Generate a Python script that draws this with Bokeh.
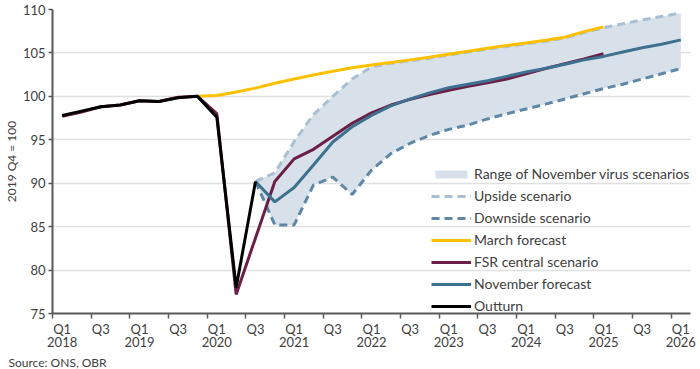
from bokeh.plotting import figure
from bokeh.models import (Range1d, FixedTicker, Legend, LegendItem, Title)
from bokeh.embed import file_html
from bokeh.resources import INLINE

# ---- data -------------------------------------------------------------
quarters = ["2018 Q1", "2018 Q2", "2018 Q3", "2018 Q4",
            "2019 Q1", "2019 Q2", "2019 Q3", "2019 Q4",
            "2020 Q1", "2020 Q2", "2020 Q3", "2020 Q4",
            "2021 Q1", "2021 Q2", "2021 Q3", "2021 Q4",
            "2022 Q1", "2022 Q2", "2022 Q3", "2022 Q4",
            "2023 Q1", "2023 Q2", "2023 Q3", "2023 Q4",
            "2024 Q1", "2024 Q2", "2024 Q3", "2024 Q4",
            "2025 Q1", "2025 Q2", "2025 Q3", "2025 Q4",
            "2026 Q1"]
tick_labels = ["Q1\n2018", "Q3", "Q1\n2019", "Q3", "Q1\n2020", "Q3",
               "Q1\n2021", "Q3", "Q1\n2022", "Q3", "Q1\n2023", "Q3",
               "Q1\n2024", "Q3", "Q1\n2025", "Q3", "Q1\n2026"]

outturn_start = 0
outturn = [97.8, 98.3, 98.8, 99.0, 99.5, 99.4, 99.85, 100.0, 97.6, 78.0, 90.2]

fsr_start = 0
fsr_central = [97.7, 98.2, 98.8, 99.0, 99.5, 99.4, 99.9, 100.0, 98.0, 77.2,
               83.7, 90.2, 92.8, 93.9, 95.4, 96.9, 98.1, 99.0, 99.65, 100.2,
               100.7, 101.15, 101.55, 102.0, 102.6, 103.2, 103.75, 104.3, 104.9]

march_start = 7
march = [100.0, 100.1, 100.5, 100.95, 101.5, 102.0, 102.45, 102.9, 103.3,
         103.6, 103.9, 104.2, 104.5, 104.85, 105.2, 105.55, 105.85, 106.15,
         106.45, 106.8, 107.45, 108.0]

nov_start = 10
november = [90.2, 87.85, 89.5, 92.1, 94.75, 96.5, 97.8, 98.9, 99.7, 100.4,
            101.0, 101.4, 101.8, 102.3, 102.8, 103.2, 103.7, 104.2, 104.6,
            105.1, 105.6, 106.0, 106.5]
upside = [90.2, 91.2, 94.8, 97.9, 100.0, 102.0, 103.4, 103.8, 104.1, 104.4,
          104.75, 105.1, 105.45, 105.75, 106.05, 106.35, 106.7, 107.35,
          107.9, 108.35, 108.8, 109.2, 109.6]
downside = [90.2, 85.2, 85.2, 89.8, 90.7, 88.7, 91.5, 93.4, 94.6, 95.5,
            96.2, 96.7, 97.4, 98.0, 98.55, 99.1, 99.7, 100.3, 100.9, 101.4,
            102.0, 102.6, 103.2]

# ---- styling ----------------------------------------------------------
FONT = "Lato"
TXT = "#404040"
AX = "#595959"
GOLD = "#FFC000"
MAROON = "#6B1F46"
NOVBLUE = "#3E7090"
DOWN = "#5F88A6"
UP = "#A8C0D2"
SHADE = "#D8E1E9"


def xs(start, vals):
    # centre of each quarter's slot on the axis
    return [start + k + 0.5 for k in range(len(vals))]


p = figure(width=700, height=369, output_backend="svg", toolbar_location=None,
           x_range=Range1d(0, 33), y_range=Range1d(75, 110),
           min_border_left=47, min_border_right=10, min_border_top=9,
           min_border_bottom=50)
p.outline_line_color = None
p.background_fill_color = "white"
p.border_fill_color = "white"

# grid
p.xgrid.visible = False
p.ygrid.grid_line_color = "#E0E0E0"
p.ygrid.grid_line_width = 1.5
p.ygrid.ticker = FixedTicker(ticks=[75, 80, 85, 90, 95, 100, 105, 110])

# y axis
p.yaxis.ticker = FixedTicker(ticks=[75, 80, 85, 90, 95, 100, 105, 110])
p.yaxis.axis_line_color = AX
p.yaxis.axis_line_width = 2
p.yaxis.major_tick_line_color = AX
p.yaxis.major_tick_line_width = 1.5
p.yaxis.major_tick_out = 4
p.yaxis.major_tick_in = 0
p.yaxis.minor_tick_line_color = None
p.yaxis.major_label_text_font = FONT
p.yaxis.major_label_text_font_size = "13px"
p.yaxis.major_label_text_color = TXT
p.yaxis.major_label_standoff = 3
p.yaxis.axis_label = "2019 Q4 = 100"
p.yaxis.axis_label_text_font = FONT
p.yaxis.axis_label_text_font_size = "12px"
p.yaxis.axis_label_text_font_style = "normal"
p.yaxis.axis_label_text_color = TXT
p.yaxis.axis_label_standoff = 1

# x axis
label_pos = [2 * k + 0.5 for k in range(len(tick_labels))]
p.xaxis.ticker = FixedTicker(ticks=label_pos,
                             minor_ticks=[2 * k for k in range(len(tick_labels))])
p.xaxis.major_label_overrides = {pos: lab for pos, lab in zip(label_pos, tick_labels)}
p.xaxis.axis_line_color = AX
p.xaxis.axis_line_width = 2
p.xaxis.major_tick_line_color = None
p.xaxis.minor_tick_line_color = AX
p.xaxis.minor_tick_line_width = 1.5
p.xaxis.minor_tick_out = 5
p.xaxis.minor_tick_in = 0
p.xaxis.major_tick_out = 5
p.xaxis.major_label_text_font = FONT
p.xaxis.major_label_text_font_size = "13px"
p.xaxis.major_label_text_color = TXT
p.xaxis.major_label_text_line_height = 0.82
p.xaxis.major_label_standoff = 2

# ---- glyphs -----------------------------------------------------------
band_x = xs(nov_start, upside)
r_band = p.varea(x=band_x, y1=downside, y2=upside, fill_color=SHADE)
r_up = p.line(xs(nov_start, upside), upside, line_color=UP, line_width=3,
              line_dash="8 5")
r_down = p.line(xs(nov_start, downside), downside, line_color=DOWN,
                line_width=3, line_dash="8 5")
r_march = p.line(xs(march_start, march), march, line_color=GOLD, line_width=3)
r_fsr = p.line(xs(fsr_start, fsr_central), fsr_central, line_color=MAROON,
               line_width=3)
r_nov = p.line(xs(nov_start, november), november, line_color=NOVBLUE,
               line_width=3)
r_out = p.line(xs(outturn_start, outturn), outturn, line_color="black",
               line_width=3)

legend = Legend(items=[
    LegendItem(label="Range of November virus scenarios", renderers=[r_band]),
    LegendItem(label="Upside scenario", renderers=[r_up]),
    LegendItem(label="Downside scenario", renderers=[r_down]),
    LegendItem(label="March forecast", renderers=[r_march]),
    LegendItem(label="FSR central scenario", renderers=[r_fsr]),
    LegendItem(label="November forecast", renderers=[r_nov]),
    LegendItem(label="Outturn", renderers=[r_out]),
], location=(379, -1))
legend.background_fill_alpha = 0
legend.border_line_color = None
legend.padding = 0
legend.margin = 0
legend.spacing = 5
legend.glyph_width = 40
legend.glyph_height = 10
legend.label_height = 14
legend.label_standoff = 3
legend.label_text_font = FONT
legend.label_text_font_size = "14px"
legend.label_text_color = TXT
p.add_layout(legend, "center")

src = Title(text="Source: ONS, OBR", align="left", offset=-44,
            text_font=FONT, text_font_size="12px", text_font_style="normal",
            text_color=TXT, standoff=0)
p.add_layout(src, "below")

open("out.html", "w").write(file_html(p, INLINE))
